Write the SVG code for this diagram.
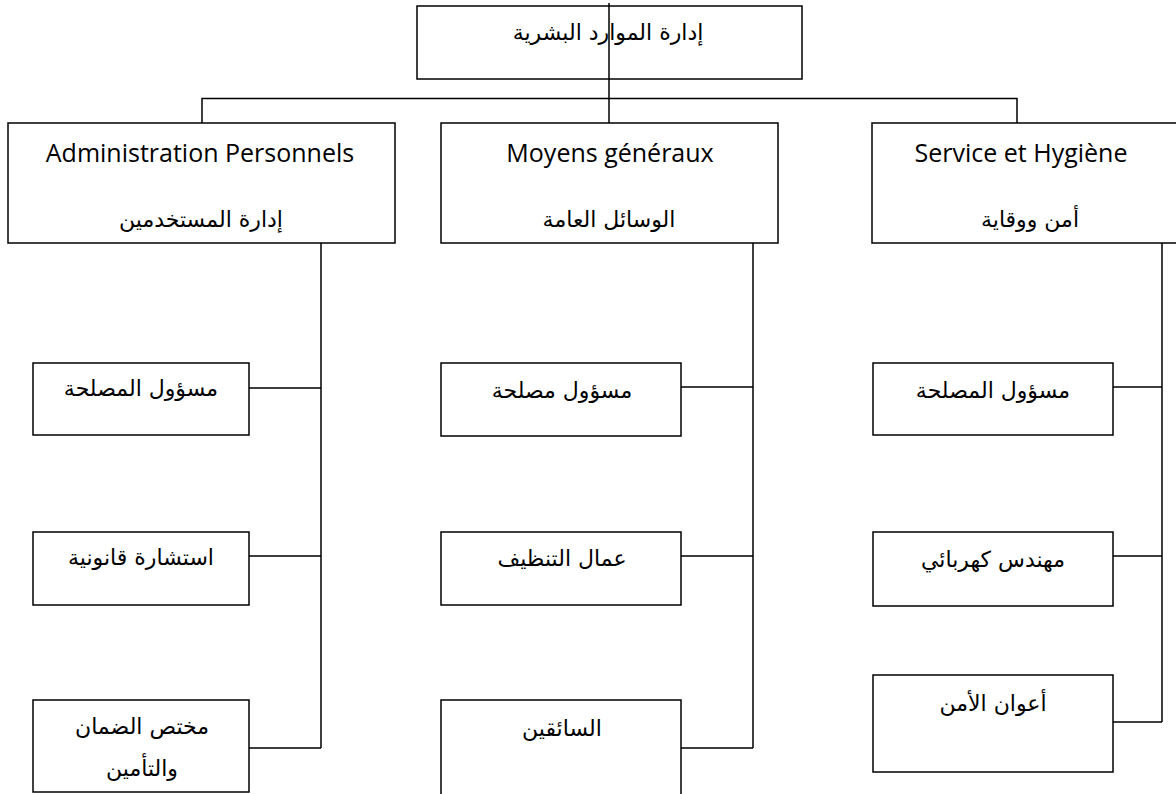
<svg xmlns="http://www.w3.org/2000/svg" width="1176" height="794" viewBox="0 0 1176 794">
<style>
.box{fill:#fff;stroke:#000;stroke-width:1.5}
.ln{fill:none;stroke:#000;stroke-width:1.5}
.ar{font-family:"DejaVu Sans","Liberation Sans",sans-serif;font-size:22px;fill:#000;text-anchor:middle}
.fr{font-family:"Open Sans","Liberation Sans",sans-serif;font-size:25px;fill:#000;text-anchor:middle}
</style>
<rect width="1176" height="794" fill="#fff"/>
<g id="n-top"><rect class="box" x="417" y="6" width="385" height="73"/><text class="ar" x="608" y="40" direction="rtl">إدارة الموارد البشرية</text></g>
<g id="n-admin"><rect class="box" x="8" y="123" width="387" height="120"/><text class="fr" x="200" y="162">Administration Personnels</text><text class="ar" x="201" y="227" direction="rtl">إدارة المستخدمين</text></g>
<g id="n-moyens"><rect class="box" x="441" y="123" width="337" height="120"/><text class="fr" x="610" y="162">Moyens généraux</text><text class="ar" x="609" y="227" direction="rtl">الوسائل العامة</text></g>
<g id="n-service"><rect class="box" x="872" y="123" width="310" height="120"/><text class="fr" x="1021" y="162">Service et Hygiène</text><text class="ar" x="1030" y="227" direction="rtl">أمن ووقاية</text></g>
<g id="n-l1"><rect class="box" x="33" y="363" width="216" height="72"/><text class="ar" x="141" y="396" direction="rtl">مسؤول المصلحة</text></g>
<g id="n-l2"><rect class="box" x="33" y="532" width="216" height="73"/><text class="ar" x="141" y="565" direction="rtl">استشارة قانونية</text></g>
<g id="n-l3"><rect class="box" x="33" y="700" width="216" height="92"/><text class="ar" x="142" y="734" direction="rtl">مختص الضمان</text><text class="ar" x="142" y="776" direction="rtl">والتأمين</text></g>
<g id="n-m1"><rect class="box" x="441" y="363" width="240" height="73"/><text class="ar" x="562" y="398" direction="rtl">مسؤول مصلحة</text></g>
<g id="n-m2"><rect class="box" x="441" y="532" width="240" height="73"/><text class="ar" x="562" y="566" direction="rtl">عمال التنظيف</text></g>
<g id="n-m3"><rect class="box" x="441" y="700" width="240" height="96"/><text class="ar" x="562" y="736" direction="rtl">السائقين</text></g>
<g id="n-r1"><rect class="box" x="873" y="363" width="240" height="72"/><text class="ar" x="993" y="398" direction="rtl">مسؤول المصلحة</text></g>
<g id="n-r2"><rect class="box" x="873" y="532" width="240" height="74"/><text class="ar" x="993" y="567" direction="rtl">مهندس كهربائي</text></g>
<g id="n-r3"><rect class="box" x="873" y="675" width="240" height="97"/><text class="ar" x="993" y="711" direction="rtl">أعوان الأمن</text></g>
<g id="connectors">
<path class="ln" d="M609 3V123"/>
<path class="ln" d="M202 123V98.5H1017V123"/>
<path class="ln" d="M321 243V748M249 388H321M249 556H321M249 748H321"/>
<path class="ln" d="M753 243V748M681 387H753M681 556H753M681 748H753"/>
<path class="ln" d="M1162 243V722M1113 387H1162M1113 556H1162M1113 722H1162"/>
</g>
</svg>
